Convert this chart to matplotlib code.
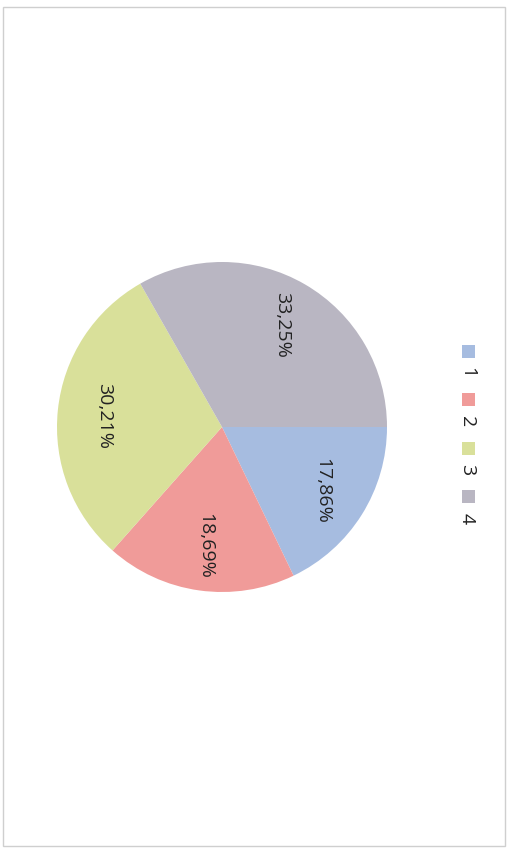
import matplotlib.pyplot as plt
from matplotlib.patches import Rectangle

# chart data
categories = ['1', '2', '3', '4']
shares = [17.86, 18.69, 30.21, 33.25]
colors = ['#a6bce0', '#f09b99', '#d9e09a', '#b9b6c2']

W, H = 508, 854
fig = plt.figure(figsize=(W / 100, H / 100), dpi=100)
fig.patch.set_facecolor('white')

# pie centre / radius in pixels (scan is turned 90 degrees clockwise)
cx, cy, r = 222, 428, 165
ax = fig.add_axes([(cx - r) / W, (H - cy - r) / H, 2 * r / W, 2 * r / H])

wedges, texts, autotexts = ax.pie(
    shares, colors=colors, startangle=0, counterclock=False,
    autopct=lambda p: f'{p:.2f}%'.replace('.', ','), pctdistance=0.72,
    wedgeprops=dict(linewidth=0))
for t in autotexts:
    t.set_rotation(-90)
    t.set_fontsize(14)
    t.set_family('Open Sans')
    t.set_color('#222222')
ax.set_xlim(-1, 1)
ax.set_ylim(-1, 1)
ax.set_aspect('equal')
ax.axis('off')

# legend, rotated like the rest of the scan
for i, (lab, col) in enumerate(zip(categories, colors)):
    y = 352 + i * 48.5
    fig.patches.append(Rectangle(((468 - 6.5) / W, (H - y - 6.5) / H), 13 / W, 13 / H,
                                 transform=fig.transFigure, facecolor=col,
                                 edgecolor='none'))
    fig.text(467 / W, 1 - (y + 21) / H, lab, rotation=-90, ha='center', va='center',
             fontsize=14, family='Open Sans', color='#222222')

# outer chart border
fig.patches.append(Rectangle((3 / W, 7 / H), 502 / W, 839 / H, transform=fig.transFigure,
                             facecolor='none', edgecolor='#cfcfcf', linewidth=1))

fig.savefig('out.png', dpi=100, facecolor='white')
